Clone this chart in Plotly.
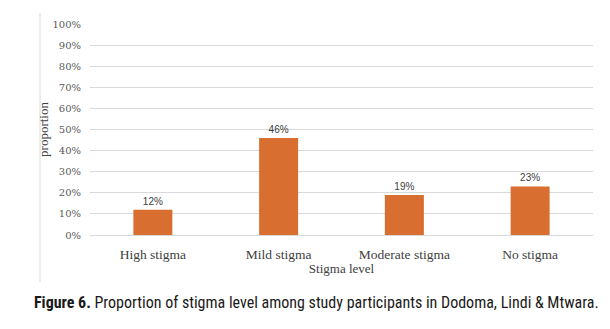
import plotly.graph_objects as go

categories = ["High stigma", "Mild stigma", "Moderate stigma", "No stigma"]
values = [12, 46, 19, 23]
labels = ["12%", "46%", "19%", "23%"]
tick_vals = [0, 10, 20, 30, 40, 50, 60, 70, 80, 90, 100]
tick_text = [f"{v}%" for v in tick_vals]

fig = go.Figure()
fig.add_trace(go.Bar(
    x=categories, y=values, text=labels, textposition="outside",
    textfont=dict(family="Liberation Sans, Arial", size=10, color="#404040"),
    marker=dict(color="#D86F30", line=dict(width=0)),
    width=0.31, cliponaxis=False,
))

fig.update_layout(
    width=610, height=329,
    margin=dict(l=90, r=17, t=24, b=94),
    paper_bgcolor="white", plot_bgcolor="white",
    showlegend=False,
    xaxis=dict(
        tickfont=dict(family="Liberation Serif, Times New Roman", size=13.5, color="#404040"),
        title=dict(text="Stigma level", font=dict(family="Liberation Serif, Times New Roman", size=13, color="#404040"), standoff=2),
        showline=False, ticks="", showgrid=False, ticklabelstandoff=9,
    ),
    yaxis=dict(
        range=[0, 100], tickvals=tick_vals, ticktext=tick_text,
        tickfont=dict(family="DejaVu Serif, Liberation Serif", size=10, color="#595959"),
        title=dict(text="proportion", font=dict(family="Liberation Serif, Times New Roman", size=13, color="#404040"), standoff=0),
        showgrid=True, gridcolor="#D9D9D9", gridwidth=1,
        zeroline=True, zerolinecolor="#D9D9D9", zerolinewidth=1,
        ticks="", ticklabelstandoff=8,
    ),
    bargap=0.69,
)

# thin left border line of the figure frame
fig.add_shape(type="line", xref="paper", yref="paper",
              x0=(40 - 90) / 503, x1=(40 - 90) / 503,
              y0=(235 - 13) / 211, y1=(235 - 282) / 211,
              line=dict(color="#D9D9D9", width=1))

fig.add_annotation(
    xref="paper", yref="paper", x=(32 - 90) / 503, y=(235 - 302) / 211,
    xanchor="left", yanchor="middle", showarrow=False,
    text="<b>Figure 6.</b> Proportion of stigma level among study participants in Dodoma, Lindi &amp; Mtwara.",
    font=dict(family="Liberation Sans Narrow, Roboto Condensed, Liberation Sans", size=16, color="#1a1a1a"),
)

fig.write_html("out.html")
